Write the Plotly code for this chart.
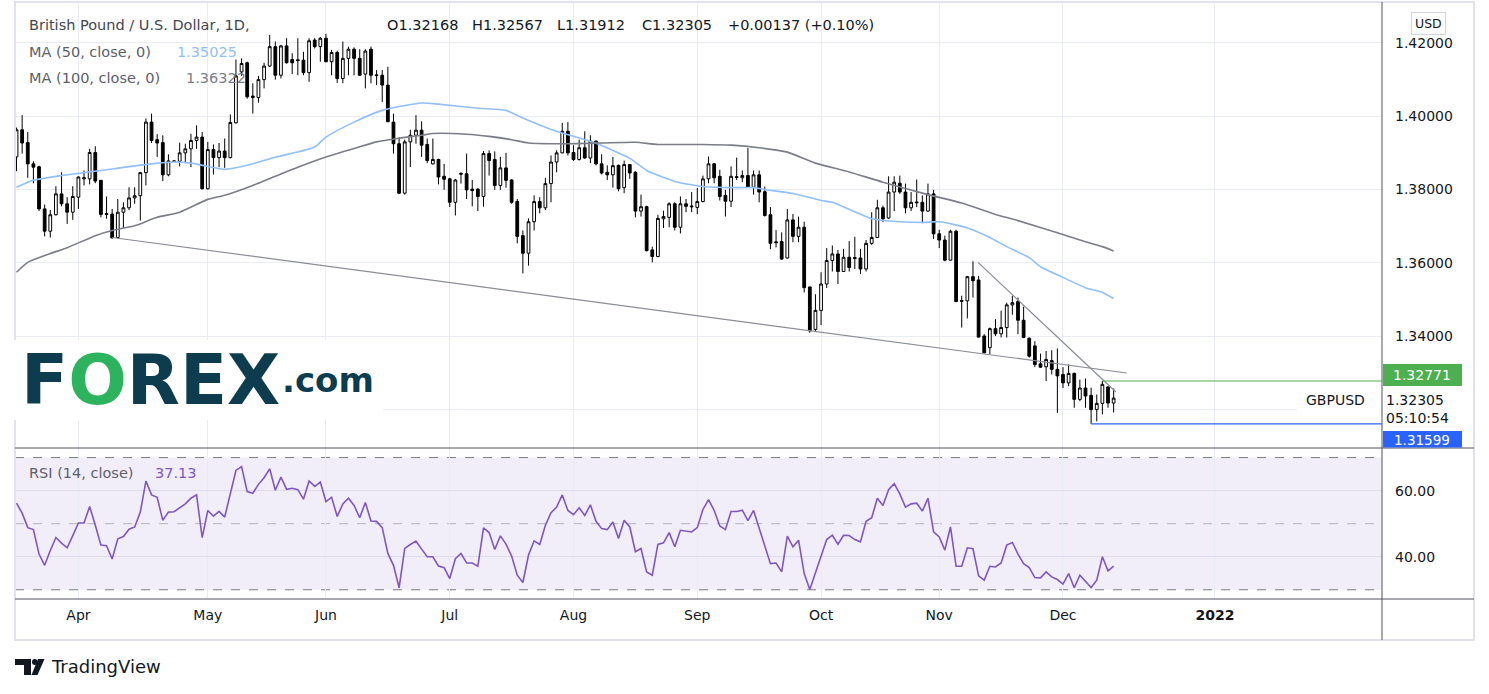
import plotly.graph_objects as go

# ---------------- data ----------------
opens = [1.3889,1.3963,1.3928,1.3870,1.3862,1.3747,1.3686,1.3731,1.3788,1.3761,
         1.3738,1.3779,1.3829,1.3829,1.3901,1.3825,1.3734,1.3733,1.3669,1.3738,
         1.3750,1.3777,1.3783,1.3846,1.3984,1.3936,1.3928,1.3840,1.3878,1.3877,
         1.3900,1.3911,1.3934,1.3943,1.3802,1.3909,1.3887,1.3905,1.3887,1.3982,
         1.4121,1.4146,1.4055,1.4051,1.4100,1.4137,1.4190,1.4112,1.4192,1.4155,
         1.4154,1.4153,1.4119,1.4208,1.4190,1.4213,1.4149,1.4174,1.4103,1.4158,
         1.4183,1.4158,1.4115,1.4183,1.4113,1.4112,1.4085,1.3984,1.3925,1.3790,
         1.3930,1.3948,1.3962,1.3923,1.3870,1.3882,1.3836,1.3829,1.3765,1.3844,
         1.3843,1.3801,1.3801,1.3781,1.3898,1.3882,1.3811,1.3859,1.3826,1.3767,
         1.3674,1.3626,1.3712,1.3767,1.3750,1.3816,1.3875,1.3900,1.3959,1.3901,
         1.3882,1.3914,1.3886,1.3932,1.3870,1.3847,1.3840,1.3866,1.3805,1.3868,
         1.3847,1.3741,1.3753,1.3635,1.3617,1.3720,1.3724,1.3761,1.3697,1.3761,
         1.3755,1.3751,1.3767,1.3829,1.3870,1.3836,1.3784,1.3768,1.3835,1.3832,
         1.3838,1.3806,1.3840,1.3794,1.3731,1.3657,1.3658,1.3613,1.3717,1.3672,
         1.3697,1.3534,1.3418,1.3470,1.3542,1.3606,1.3624,1.3576,1.3615,1.3614,
         1.3613,1.3583,1.3653,1.3669,1.3750,1.3722,1.3793,1.3817,1.3793,1.3750,
         1.3766,1.3765,1.3741,1.3788,1.3679,1.3662,1.3607,1.3686,1.3497,1.3496,
         1.3562,1.3553,1.3400,1.3368,1.3420,1.3406,1.3423,1.3485,1.3494,1.3443,
         1.3394,1.3373,1.3324,1.3316,1.3333,1.3309,1.3295,1.3272,1.3298,1.3227,
         1.3258,1.3238,1.3199,1.3216,1.3261,1.32168]
highs = [1.3969,1.4003,1.3957,1.3877,1.3865,1.3759,1.3744,1.3809,1.3847,1.3779,
         1.3809,1.3836,1.3852,1.3911,1.3918,1.3826,1.3781,1.3747,1.3774,1.3765,
         1.3806,1.3806,1.3847,1.3994,1.4007,1.3951,1.3948,1.3896,1.3879,1.3928,
         1.3925,1.3952,1.3975,1.3957,1.3930,1.3923,1.3927,1.3939,1.4005,1.4155,
         1.4158,1.4149,1.4090,1.4110,1.4146,1.4222,1.4204,1.4195,1.4213,1.4172,
         1.4213,1.4176,1.4213,1.4213,1.4216,1.4225,1.4181,1.4179,1.4204,1.4190,
         1.4188,1.4183,1.4183,1.4190,1.4126,1.4126,1.4135,1.4007,1.3943,1.3936,
         1.3963,1.4003,1.3986,1.3939,1.3939,1.3884,1.3870,1.3832,1.3829,1.3847,
         1.3898,1.3826,1.3804,1.3905,1.3907,1.3904,1.3889,1.3900,1.3828,1.3774,
         1.3688,1.3721,1.3784,1.3779,1.3832,1.3893,1.3907,1.3982,1.3984,1.3921,
         1.3936,1.3959,1.3948,1.3934,1.3896,1.3866,1.3889,1.3868,1.3879,1.3869,
         1.3850,1.3786,1.3756,1.3644,1.3731,1.3742,1.3765,1.3765,1.3781,1.3774,
         1.3793,1.3804,1.3838,1.3890,1.3872,1.3854,1.3799,1.3863,1.3887,1.3852,
         1.3913,1.3852,1.3852,1.3808,1.3752,1.3689,1.3683,1.3747,1.3733,1.3726,
         1.3712,1.3534,1.3514,1.3574,1.3640,1.3647,1.3635,1.3638,1.3659,1.3671,
         1.3638,1.3662,1.3738,1.3772,1.3756,1.3836,1.3836,1.3838,1.3816,1.3793,
         1.3827,1.3784,1.3816,1.3799,1.3690,1.3674,1.3690,1.3690,1.3510,1.3564,
         1.3604,1.3564,1.3405,1.3423,1.3446,1.3469,1.3491,1.3510,1.3505,1.3480,
         1.3396,1.3386,1.3352,1.3359,1.3361,1.3366,1.3315,1.3322,1.3300,1.3281,
         1.3284,1.3259,1.3240,1.32771,1.3263,1.32567]
lows = [1.3850,1.3898,1.3832,1.3817,1.3741,1.3672,1.3669,1.3729,1.3754,1.3706,
        1.3717,1.3747,1.3811,1.3814,1.3817,1.3724,1.3720,1.3666,1.3667,1.3695,
        1.3744,1.3761,1.3715,1.3811,1.3927,1.3889,1.3823,1.3836,1.3877,1.3863,
        1.3872,1.3861,1.3911,1.3800,1.3800,1.3841,1.3861,1.3859,1.3885,1.3980,
        1.4110,1.4048,1.4007,1.4037,1.4076,1.4135,1.4100,1.4103,1.4144,1.4115,
        1.4112,1.4112,1.4094,1.4185,1.4149,1.4147,1.4112,1.4091,1.4090,1.4112,
        1.4112,1.4110,1.4076,1.4090,1.4085,1.4039,1.3985,1.3898,1.3788,1.3786,
        1.3861,1.3925,1.3889,1.3872,1.3868,1.3814,1.3799,1.3752,1.3729,1.3816,
        1.3774,1.3754,1.3741,1.3753,1.3838,1.3799,1.3799,1.3805,1.3761,1.3653,
        1.3571,1.3592,1.3688,1.3735,1.3744,1.3765,1.3847,1.3899,1.3893,1.3878,
        1.3879,1.3884,1.3872,1.3866,1.3841,1.3826,1.3805,1.3795,1.3790,1.3829,
        1.3724,1.3726,1.3631,1.3601,1.3615,1.3695,1.3697,1.3688,1.3680,1.3738,
        1.3738,1.3733,1.3765,1.3817,1.3817,1.3770,1.3726,1.3752,1.3826,1.3820,
        1.3805,1.3786,1.3765,1.3726,1.3637,1.3642,1.3608,1.3611,1.3656,1.3656,
        1.3519,1.3409,1.3412,1.3430,1.3531,1.3576,1.3542,1.3575,1.3576,1.3583,
        1.3569,1.3576,1.3649,1.3668,1.3711,1.3720,1.3741,1.3788,1.3735,1.3741,
        1.3752,1.3708,1.3740,1.3665,1.3640,1.3604,1.3606,1.3493,1.3423,1.3448,
        1.3505,1.3396,1.3353,1.3350,1.3400,1.3396,1.3396,1.3458,1.3405,1.3394,
        1.3341,1.3315,1.3313,1.3277,1.3295,1.3190,1.3258,1.3263,1.3204,1.3222,
        1.3204,1.31599,1.3167,1.3186,1.3204,1.31912]
closes = [1.3963,1.3927,1.3870,1.3861,1.3747,1.3686,1.3731,1.3788,1.3761,1.3738,
          1.3781,1.3834,1.3832,1.3901,1.3823,1.3732,1.3732,1.3668,1.3738,1.3750,
          1.3777,1.3783,1.3846,1.3984,1.3934,1.3927,1.3840,1.3878,1.3877,1.3900,
          1.3911,1.3934,1.3943,1.3802,1.3909,1.3887,1.3905,1.3887,1.3983,1.4110,
          1.4144,1.4053,1.4051,1.4100,1.4137,1.4190,1.4112,1.4192,1.4146,1.4146,
          1.4152,1.4119,1.4206,1.4190,1.4213,1.4149,1.4174,1.4103,1.4158,1.4183,
          1.4158,1.4112,1.4178,1.4112,1.4111,1.4085,1.3985,1.3925,1.3790,1.3930,
          1.3948,1.3962,1.3921,1.3879,1.3882,1.3834,1.3828,1.3765,1.3826,1.3842,
          1.3799,1.3797,1.3781,1.3898,1.3879,1.3811,1.3859,1.3825,1.3765,1.3672,
          1.3626,1.3712,1.3767,1.3750,1.3816,1.3875,1.3900,1.3959,1.3900,1.3882,
          1.3914,1.3886,1.3932,1.3870,1.3845,1.3840,1.3865,1.3802,1.3868,1.3845,
          1.3741,1.3753,1.3633,1.3617,1.3721,1.3726,1.3761,1.3697,1.3761,1.3754,
          1.3753,1.3767,1.3829,1.3870,1.3832,1.3781,1.3768,1.3836,1.3833,1.3838,
          1.3806,1.3840,1.3793,1.3729,1.3653,1.3655,1.3610,1.3717,1.3672,1.3697,
          1.3532,1.3414,1.3470,1.3542,1.3606,1.3624,1.3576,1.3615,1.3587,1.3612,
          1.3583,1.3653,1.3669,1.3750,1.3720,1.3793,1.3820,1.3793,1.3750,1.3765,
          1.3764,1.3741,1.3788,1.3679,1.3662,1.3607,1.3686,1.3494,1.3495,1.3562,
          1.3551,1.3397,1.3354,1.3420,1.3406,1.3423,1.3485,1.3491,1.3443,1.3396,
          1.3345,1.3322,1.3315,1.3336,1.3309,1.3291,1.3272,1.3298,1.3227,1.3258,
          1.3236,1.3199,1.3216,1.3268,1.3217,1.32305]

rsi = [56.2,53.2,48.8,48.2,40.8,37.4,41.9,45.8,44.1,42.7,46.4,50.2,50.2,55.2,49.5,43.5,
       43.3,39.3,45.4,46.1,48.3,49.0,53.5,62.9,58.7,58.0,51.0,53.5,53.6,54.9,56.0,57.7,
       58.7,45.8,54.0,52.3,53.7,52.0,59.2,66.1,67.3,59.7,59.2,61.9,63.9,66.6,60.1,64.1,
       60.4,60.7,60.3,57.4,62.9,61.3,62.6,56.7,58.0,52.2,56.0,57.7,55.5,51.8,56.4,50.8,
       50.7,48.8,41.0,37.4,30.6,42.5,43.7,44.7,42.3,40.0,40.0,37.2,36.7,33.4,39.4,41.0,
       38.1,38.1,37.1,48.7,47.3,42.2,46.3,43.8,40.2,34.4,32.2,40.5,44.8,43.7,49.5,53.3,
       55.0,58.7,54.0,52.7,54.8,52.5,55.7,50.7,48.5,48.2,50.5,45.5,51.0,49.0,41.5,42.5,
       35.4,34.4,43.7,44.2,47.3,43.0,48.0,47.8,47.5,48.8,54.3,57.3,54.0,49.3,48.2,53.7,
       53.7,54.1,50.9,54.0,48.7,43.5,37.9,38.1,35.4,46.2,43.0,45.0,34.9,30.1,35.1,40.5,
       45.2,46.5,43.8,46.5,46.4,45.2,44.5,50.7,51.8,57.7,55.5,60.3,62.1,59.0,55.0,56.0,
       56.2,53.8,57.7,47.5,46.0,42.0,49.0,37.1,37.1,42.7,42.4,34.2,32.9,37.1,36.9,38.1,
       43.5,44.3,40.8,37.9,36.7,33.7,33.6,35.4,33.9,33.1,31.7,34.9,30.6,34.4,32.7,30.7,
       32.9,40.0,35.7,37.13]

ma50_idx = [0,3,8,15,24,28,31,36,37,41,46,53,55,60,65,72,75,82,87,90,95,103,109,112,
            115,117,122,127,131,133,138,143,145,152,155,161,164,169,173,176,180,182,
            186,190,193,195]
ma50_val = [1.3806,1.3825,1.3838,1.3852,1.3870,1.3875,1.3872,1.3857,1.3855,1.3866,1.3888,
            1.3916,1.3943,1.3984,1.4016,1.4036,1.4033,1.4022,1.4016,1.3995,1.3964,1.3926,
            1.3885,1.3852,1.3833,1.3822,1.3808,1.3805,1.3805,1.3800,1.3789,1.3770,1.3765,
            1.3720,1.3714,1.3710,1.3712,1.3695,1.3669,1.3644,1.3614,1.3589,1.3560,1.3532,
            1.3519,1.35025]
ma100_idx = [0,2,6,9,14,17,21,25,29,34,37,42,46,50,55,60,64,68,72,74,80,84,88,91,98,104,
             110,114,122,127,132,137,142,148,154,162,168,174,178,186,189,193,195]
ma100_val = [1.3574,1.3601,1.3625,1.3641,1.3674,1.3688,1.3701,1.3724,1.3738,1.3773,1.3784,
             1.3811,1.3836,1.3861,1.3889,1.3912,1.3930,1.3940,1.3948,1.3953,1.3951,1.3945,
             1.3936,1.3927,1.3925,1.3927,1.3929,1.3923,1.3923,1.3921,1.3914,1.3902,1.3872,
             1.3848,1.3820,1.3786,1.3763,1.3732,1.3715,1.3677,1.3662,1.3644,1.36322]

trend_long_x = [17.0, 197.3]
trend_long_y = [1.3669, 1.3299]
trend_short_x = [170.9, 195.4]
trend_short_y = [1.3601, 1.3247]

level_high_idx, level_high = 193, 1.32771
level_low_idx, level_low = 191, 1.31599

month_idx = [11, 34, 55, 77, 99, 121, 143, 164, 186, 213]
month_lbl = ["Apr", "May", "Jun", "Jul", "Aug", "Sep", "Oct", "Nov", "Dec", "<b>2022</b>"]

price_ticks = [1.32, 1.34, 1.36, 1.38, 1.40, 1.42]
price_tick_text = ["", "1.34000", "1.36000", "1.38000", "1.40000", "1.42000"]
rsi_ticks = [40, 60]
rsi_tick_text = ["40.00", "60.00"]

bar_index = list(range(len(closes)))

# ---------------- geometry helpers ----------------
W, H = 1489, 694
PL, PR, PT, PB = 15, 1382, 2, 599


def px(x):
    return (x - PL) / (PR - PL)


def py(y):
    return (PB - y) / (PB - PT)


split = py(448)
X_MIN, X_MAX = -0.27, 242.7
FONT = "DejaVu Sans"
TXT = "#131722"
GRID = "#e9edf3"
LS = 14.5   # legend text size
AS = 14     # axis text size

fig = go.Figure()

fig.add_trace(go.Candlestick(
    x=bar_index, open=opens, high=highs, low=lows, close=closes,
    increasing=dict(line=dict(color="#000000", width=1), fillcolor="#ffffff"),
    decreasing=dict(line=dict(color="#000000", width=1), fillcolor="#000000"),
    whiskerwidth=0, hoverinfo="skip", showlegend=False, xaxis="x", yaxis="y"))

fig.add_trace(go.Scatter(x=ma50_idx, y=ma50_val, mode="lines",
                         line=dict(color="#90bff9", width=1.6, shape="spline", smoothing=0.6),
                         hoverinfo="skip", showlegend=False, xaxis="x", yaxis="y"))
fig.add_trace(go.Scatter(x=ma100_idx, y=ma100_val, mode="lines",
                         line=dict(color="#7b7e88", width=1.6, shape="spline", smoothing=0.6),
                         hoverinfo="skip", showlegend=False, xaxis="x", yaxis="y"))
fig.add_trace(go.Scatter(x=trend_long_x, y=trend_long_y, mode="lines",
                         line=dict(color="#8a8d96", width=1.2),
                         hoverinfo="skip", showlegend=False, xaxis="x", yaxis="y"))
fig.add_trace(go.Scatter(x=trend_short_x, y=trend_short_y, mode="lines",
                         line=dict(color="#8a8d96", width=1.2),
                         hoverinfo="skip", showlegend=False, xaxis="x", yaxis="y"))
fig.add_trace(go.Scatter(x=[level_high_idx, X_MAX], y=[level_high, level_high], mode="lines",
                         line=dict(color="#4caf50", width=1.2),
                         hoverinfo="skip", showlegend=False, xaxis="x", yaxis="y"))
fig.add_trace(go.Scatter(x=[level_low_idx, X_MAX], y=[level_low, level_low], mode="lines",
                         line=dict(color="#2962ff", width=1.2),
                         hoverinfo="skip", showlegend=False, xaxis="x", yaxis="y"))

fig.add_trace(go.Scatter(x=bar_index, y=rsi, mode="lines",
                         line=dict(color="#7e57c2", width=1.6),
                         hoverinfo="skip", showlegend=False, xaxis="x2", yaxis="y2"))

shapes = []
# RSI band and levels
shapes.append(dict(type="rect", xref="paper", yref="y2", x0=0, x1=1, y0=30, y1=70,
                   fillcolor="rgba(126,87,194,0.10)", line=dict(width=0), layer="below"))
for lvl, col in [(70, "#787b86"), (50, "#b2b5be"), (30, "#787b86")]:
    shapes.append(dict(type="line", xref="paper", yref="y2", x0=0, x1=1, y0=lvl, y1=lvl,
                       line=dict(color=col, width=1, dash="dash"), layer="below"))

# separators and frame
shapes.append(dict(type="rect", xref="paper", yref="paper", x0=px(15), x1=px(1474),
                   y0=py(640), y1=py(2), line=dict(color="#e0e3eb", width=2), layer="above"))
for yy in (448, 599):
    shapes.append(dict(type="line", xref="paper", yref="paper", x0=px(15), x1=px(1474),
                       y0=py(yy), y1=py(yy), line=dict(color="#50535e", width=1), layer="above"))
shapes.append(dict(type="line", xref="paper", yref="paper", x0=px(1382), x1=px(1382),
                   y0=py(2), y1=py(640), line=dict(color="#50535e", width=1), layer="above"))

# logo box
shapes.append(dict(type="rect", xref="paper", yref="paper", x0=px(10), x1=px(383),
                   y0=py(420), y1=py(340), fillcolor="#ffffff", line=dict(width=0), layer="above"))
# GBPUSD label background
shapes.append(dict(type="rect", xref="paper", yref="paper", x0=px(1297), x1=px(1381),
                   y0=py(412), y1=py(389), fillcolor="#ffffff", line=dict(width=0), layer="above"))
# price label boxes
shapes.append(dict(type="rect", xref="paper", yref="paper", x0=px(1383), x1=px(1462),
                   y0=py(386), y1=py(364), fillcolor="#4caf50", line=dict(width=0), layer="above"))
shapes.append(dict(type="rect", xref="paper", yref="paper", x0=px(1383), x1=px(1462),
                   y0=py(447.5), y1=py(431), fillcolor="#2962ff", line=dict(width=0), layer="above"))


def P(x, y):
    return f"{px(x):.5f},{py(y):.5f}"


# TradingView mark
shapes.append(dict(type="rect", xref="paper", yref="paper", x0=px(15), x1=px(31),
                   y0=py(665), y1=py(659), fillcolor="#131722", line=dict(width=0)))
shapes.append(dict(type="rect", xref="paper", yref="paper", x0=px(24), x1=px(31),
                   y0=py(675), y1=py(659), fillcolor="#131722", line=dict(width=0)))
shapes.append(dict(type="circle", xref="paper", yref="paper", x0=px(32), x1=px(37.5),
                   y0=py(665), y1=py(659), fillcolor="#131722", line=dict(width=0)))
shapes.append(dict(type="path", xref="paper", yref="paper",
                   path=f"M{P(38,659)} L{P(44.5,659)} L{P(37.5,675)} L{P(31.5,675)} Z",
                   fillcolor="#131722", line=dict(width=0)))

ann = []


def text(x, y, s, size=LS, color=TXT, anchor="left", family=FONT, **kw):
    ann.append(dict(xref="paper", yref="paper", x=px(x), y=py(y), text=s, showarrow=False,
                    xanchor=anchor, yanchor="middle", font=dict(family=family, size=size, color=color),
                    **kw))


# header legend
text(27, 25, "British Pound / U.S. Dollar, 1D,", color="#434651")
text(385, 25, "O1.32168")
text(470, 25, "H1.32567")
text(555, 25, "L1.31912")
text(640, 25, "C1.32305")
text(726, 25, "+0.00137 (+0.10%)")
text(27, 52, "MA (50, close, 0)", color="#5d606b")
text(175, 52, "1.35025", color="#90bff9")
text(27, 78, "MA (100, close, 0)", color="#5d606b")
text(184, 78, "1.36322", color="#7b7e88")
text(27, 473, "RSI (14, close)", color="#5d606b")
text(153, 473, "37.13", color="#7e57c2")

# FOREX.com logo
text(19, 380, "<b>F<span style='color:#2db35d'>O</span>REX</b>", size=69,
     color="#0d3c4e", family="DejaVu Sans")
text(280, 380, "<b>.com</b>", size=34, color="#0d3c4e", family="DejaVu Sans")

# right-axis labels
text(1422, 375, "1.32771", size=AS, color="#ffffff", anchor="center")
text(1422, 440, "1.31599", size=13.5, color="#ffffff", anchor="center")
text(1384, 400, "1.32305", size=AS)
text(1384, 418, "05:10:54", size=AS)
text(1304, 400, "GBPUSD", size=AS)
text(1428, 23, "USD", size=12.5, anchor="center", bordercolor="#d1d4dc", borderwidth=1,
     borderpad=3, bgcolor="#ffffff")
text(49, 667, "TradingView", size=18)

fig.update_layout(
    width=W, height=H, autosize=False,
    margin=dict(l=PL, r=W - PR, t=PT, b=H - PB, pad=0),
    paper_bgcolor="#ffffff", plot_bgcolor="#ffffff",
    hovermode=False, showlegend=False,
    shapes=shapes, annotations=ann,
    xaxis=dict(domain=[0, 1], anchor="y", range=[X_MIN, X_MAX], tickvals=month_idx,
               showticklabels=False, showgrid=True, gridcolor=GRID, gridwidth=1,
               zeroline=False, showline=False, ticks="", rangeslider=dict(visible=False),
               fixedrange=True),
    xaxis2=dict(domain=[0, 1], anchor="y2", matches="x", range=[X_MIN, X_MAX],
                tickvals=month_idx, ticktext=month_lbl, showgrid=True, gridcolor=GRID,
                zeroline=False, showline=False, ticks="", ticklabelstandoff=6,
                tickfont=dict(family=FONT, size=AS, color=TXT), fixedrange=True),
    yaxis=dict(domain=[split, 1], anchor="x", side="right", range=[1.30942, 1.43119],
               tickvals=price_ticks, ticktext=price_tick_text, showgrid=True, gridcolor=GRID,
               zeroline=False, showline=False, ticks="", ticklabelstandoff=12,
               tickfont=dict(family=FONT, size=AS, color=TXT), fixedrange=True),
    yaxis2=dict(domain=[0, split], anchor="x2", side="right", range=[27.2, 72.9],
                tickvals=rsi_ticks, ticktext=rsi_tick_text, showgrid=True, gridcolor="#dcdcec",
                zeroline=False, showline=False, ticks="", ticklabelstandoff=12,
                tickfont=dict(family=FONT, size=AS, color=TXT), fixedrange=True),
)

fig.write_html("out.html", config={"displayModeBar": False, "staticPlot": True},
               post_script="document.body.style.margin='0';document.body.style.overflow='hidden';")
